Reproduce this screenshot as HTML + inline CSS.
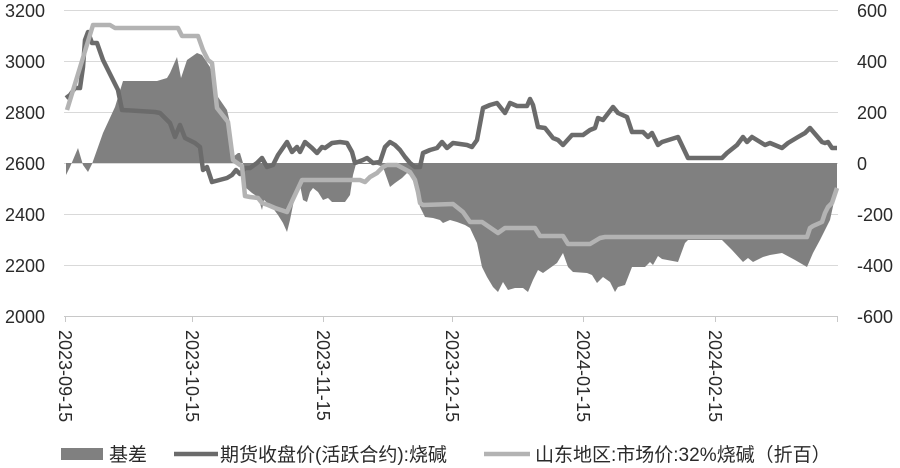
<!DOCTYPE html>
<html><head><meta charset="utf-8"><style>
html,body{margin:0;padding:0;background:#fff;}
svg{display:block;}
text{font-family:"Liberation Sans","Noto Sans CJK SC",sans-serif;fill:#2a2a2a;}
</style></head><body>
<svg width="900" height="468" viewBox="0 0 900 468" xmlns="http://www.w3.org/2000/svg">
<g stroke="#d9d9d9" stroke-width="1">
<line x1="64" y1="10.5" x2="838" y2="10.5"/>
<line x1="64" y1="61.5" x2="838" y2="61.5"/>
<line x1="64" y1="112.5" x2="838" y2="112.5"/>
<line x1="64" y1="163.5" x2="838" y2="163.5"/>
<line x1="64" y1="214.5" x2="838" y2="214.5"/>
<line x1="64" y1="265.5" x2="838" y2="265.5"/>
</g>
<g stroke="#c8c8c8" stroke-width="1">
<line x1="64" y1="316.5" x2="838" y2="316.5"/>
<line x1="65.5" y1="316" x2="65.5" y2="322"/>
<line x1="192.5" y1="316" x2="192.5" y2="322"/>
<line x1="323.5" y1="316" x2="323.5" y2="322"/>
<line x1="452.5" y1="316" x2="452.5" y2="322"/>
<line x1="583.5" y1="316" x2="583.5" y2="322"/>
<line x1="715.5" y1="316" x2="715.5" y2="322"/>
<line x1="837.5" y1="316" x2="837.5" y2="322"/>
</g>
<!-- basis area -->
<polygon fill="#808080" points="66,163 66,175 70,167 78,148 83,165 88,172 92,164 103,133 115,107 123,81 157,81 167,78 170,73 177,57 181,78 187,60 197,53 202,55 210,67 213,80 218,97 227,110 230,123 233,157 238,153 240,153 243,163 245,187 252,193 258,197 262,210 264,200 272,207 278,215 283,223 287,232 290,220 293,205 297,192 300,185 303,200 307,202 310,192 313,188 318,192 323,200 328,198 332,202 338,202 345,202 350,195 353,175 356,164 365,164 375,164 383,167 390,187 395,183 402,178 407,173 412,177 420,207 425,217 433,218 440,220 443,223 450,220 457,222 465,225 470,228 477,243 482,267 487,277 493,287 498,292 503,282 508,290 515,288 523,288 528,292 533,280 538,270 543,273 557,263 563,253 568,267 573,272 587,273 592,275 597,283 603,277 610,282 615,292 618,287 625,285 632,267 645,267 650,262 653,265 658,256 662,259 678,262 685,243 688,240 722,240 732,250 743,262 748,258 753,262 763,257 770,255 782,253 795,260 807,267 813,253 820,240 830,220 837,188 837,163"/>
<!-- futures -->
<polyline fill="none" stroke="#6b6b6b" stroke-width="4.5" stroke-linejoin="round" points="66,98 70,95 75,88 80,88 83,67 85,40 88,32 92,43 97,43 103,60 118,90 122,110 155,112 160,113 170,123 175,137 180,125 185,138 195,143 200,147 203,170 207,167 212,182 227,178 232,175 236,170 240,174 245,168 250,168 257,163 262,158 267,167 273,165 278,155 287,142 292,152 297,147 300,152 305,142 312,148 317,153 322,147 325,148 332,143 340,142 347,143 352,152 355,163 363,160 367,158 373,163 380,162 385,147 390,142 395,145 400,150 405,157 410,163 415,167 420,167 423,153 430,150 437,148 442,142 447,148 453,143 467,145 472,147 477,140 483,108 490,105 497,103 505,113 510,103 517,106 527,106 530,99 533,105 538,127 545,128 553,138 558,140 563,145 572,135 583,135 590,130 595,128 598,118 603,120 613,107 618,113 627,117 632,132 643,132 648,137 652,133 658,145 662,142 678,137 688,158 722,158 727,153 737,145 743,137 747,142 752,137 765,145 770,143 782,148 788,143 798,137 805,133 810,128 822,142 825,143 828,142 832,148 837,148"/>
<!-- spot -->
<polyline fill="none" stroke="#b3b3b3" stroke-width="4.5" stroke-linejoin="round" points="67,110 93,25 110,25 115,28 178,28 182,36 198,36 203,50 208,60 212,63 217,108 228,122 233,160 240,165 242,166 245,196 250,197 258,198 262,203 268,205 275,208 287,212 302,180 360,180 365,182 370,177 377,173 383,167 387,165 397,165 410,172 415,180 418,192 420,203 423,205 453,204 463,212 470,222 482,222 498,233 505,228 535,228 540,236 563,236 568,244 590,244 600,238 605,237 807,237 810,228 813,226 822,222 825,213 828,207 832,203 837,188"/>
<!-- left axis labels -->
<g font-size="18" text-anchor="end">
<text x="45" y="17">3200</text>
<text x="45" y="68">3000</text>
<text x="45" y="119">2800</text>
<text x="45" y="170">2600</text>
<text x="45" y="221">2400</text>
<text x="45" y="272">2200</text>
<text x="45" y="323">2000</text>
</g>
<g font-size="18" text-anchor="start">
<text x="857" y="17">600</text>
<text x="857" y="68">400</text>
<text x="857" y="119">200</text>
<text x="857" y="170">0</text>
<text x="857" y="221">-200</text>
<text x="857" y="272">-400</text>
<text x="857" y="323">-600</text>
</g>
<!-- x labels rotated -->
<g font-size="18">
<text transform="translate(59,330) rotate(90)">2023-09-15</text>
<text transform="translate(186,330) rotate(90)">2023-10-15</text>
<text transform="translate(317,330) rotate(90)">2023-11-15</text>
<text transform="translate(446,330) rotate(90)">2023-12-15</text>
<text transform="translate(577,330) rotate(90)">2024-01-15</text>
<text transform="translate(709,330) rotate(90)">2024-02-15</text>
</g>
<!-- legend -->
<rect x="61" y="448" width="42" height="12" fill="#808080"/>
<text x="109" y="461" font-size="19">基差</text>
<line x1="174" y1="454" x2="218" y2="454" stroke="#6b6b6b" stroke-width="4.5"/>
<text x="220" y="461" font-size="19">期货收盘价(活跃合约):烧碱</text>
<line x1="484" y1="454" x2="530" y2="454" stroke="#b3b3b3" stroke-width="4.5"/>
<text x="535" y="461" font-size="19">山东地区:市场价:32%烧碱（折百）</text>
</svg>
</body></html>
